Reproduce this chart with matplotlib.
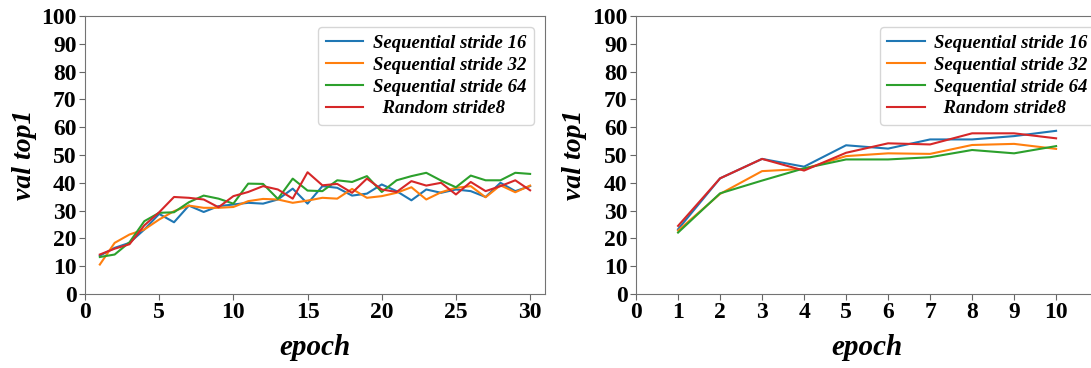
import numpy as np
import matplotlib
matplotlib.use("Agg")
import matplotlib.pyplot as plt

plt.rcParams['font.family'] = 'Liberation Serif'
plt.rcParams['font.weight'] = 'bold'

labels = ["Sequential stride 16", "Sequential stride 32", "Sequential stride 64", "  Random stride8"]
colors = ["#1f77b4", "#ff7f0e", "#2ca02c", "#d62728"]

# left plot: 30 epochs
epochs_a = list(range(1, 31))
seq16_a = [13.8, 16.6, 18.4, 23.2, 28.8, 25.8, 31.8, 29.5, 31.6, 32.2,
           32.8, 32.5, 34.0, 37.9, 32.5, 38.8, 38.2, 35.4, 36.1, 39.4,
           37.0, 33.7, 37.6, 36.4, 37.6, 37.0, 34.9, 40.0, 37.0, 38.8]
seq32_a = [10.6, 18.4, 21.4, 23.2, 26.8, 29.8, 31.8, 31.0, 31.0, 31.3,
           33.4, 34.2, 34.0, 32.8, 33.6, 34.6, 34.3, 37.8, 34.6, 35.2,
           36.4, 38.4, 34.0, 36.6, 38.2, 38.8, 34.8, 39.1, 36.6, 39.0]
seq64_a = [13.3, 14.2, 18.6, 26.2, 29.2, 29.4, 33.0, 35.4, 34.3, 32.5,
           39.7, 39.6, 34.2, 41.5, 37.2, 37.0, 40.9, 40.3, 42.4, 36.7,
           40.9, 42.4, 43.6, 40.8, 38.4, 42.6, 40.9, 40.9, 43.6, 43.2]
rand8_a = [14.2, 16.3, 17.9, 24.7, 29.4, 34.9, 34.6, 34.0, 31.2, 35.2,
           36.7, 38.8, 37.6, 34.3, 43.8, 39.1, 39.6, 36.4, 41.5, 37.6,
           36.7, 40.6, 39.0, 40.0, 35.8, 40.3, 37.0, 38.8, 40.9, 37.3]

# right plot: 10 epochs
epochs_b = list(range(1, 11))
seq16_b = [23.3, 41.6, 48.6, 45.8, 53.5, 52.3, 55.6, 55.6, 56.8, 58.7]
seq32_b = [22.8, 36.0, 44.2, 45.0, 49.6, 50.6, 50.4, 53.6, 54.0, 52.2]
seq64_b = [22.1, 36.2, 40.8, 45.2, 48.4, 48.4, 49.2, 51.8, 50.6, 53.2]
rand8_b = [24.5, 41.6, 48.6, 44.4, 50.8, 54.2, 53.8, 57.8, 57.8, 56.0]

fig = plt.figure(figsize=(10.91, 3.68), dpi=100)
ax1 = fig.add_axes([0.0779, 0.2011, 0.4216, 0.7554])
# right panel runs a little past the image edge, as in the original
ax2 = fig.add_axes([0.583, 0.2011, 0.4312, 0.7554])

def style(ax, xs, series, xlim, xticks):
    for ys, lab, c in zip(series, labels, colors):
        ax.plot(xs, ys, color=c, lw=1.5, label=lab)
    ax.set_xlim(*xlim)
    ax.set_ylim(0, 100)
    ax.set_xticks(xticks)
    ax.set_yticks(range(0, 101, 10))
    ax.tick_params(labelsize=17, color='0.4', length=4, pad=2)
    for s in ax.spines.values():
        s.set_color('0.45')
    ax.set_xlabel("epoch", fontsize=21, style='italic', fontweight='bold')
    ax.set_ylabel("val top1", fontsize=20, style='italic', fontweight='bold')
    ax.yaxis.set_label_coords(-0.104, 0.5)
    ax.legend(loc='upper right', prop={'family': 'Liberation Serif', 'style': 'italic',
                                       'weight': 'bold', 'size': 13.5},
              handlelength=2.0, handletextpad=0.5, labelspacing=0.25, borderaxespad=0.6)

style(ax1, epochs_a, [seq16_a, seq32_a, seq64_a, rand8_a], (0, 31), range(0, 31, 5))
style(ax2, epochs_b, [seq16_b, seq32_b, seq64_b, rand8_b], (0, 11.2), range(0, 11))
ax1.xaxis.set_label_coords(0.5, -0.145)
ax2.xaxis.set_label_coords(231 / 470, -0.145)

fig.savefig("out.png", dpi=100)
